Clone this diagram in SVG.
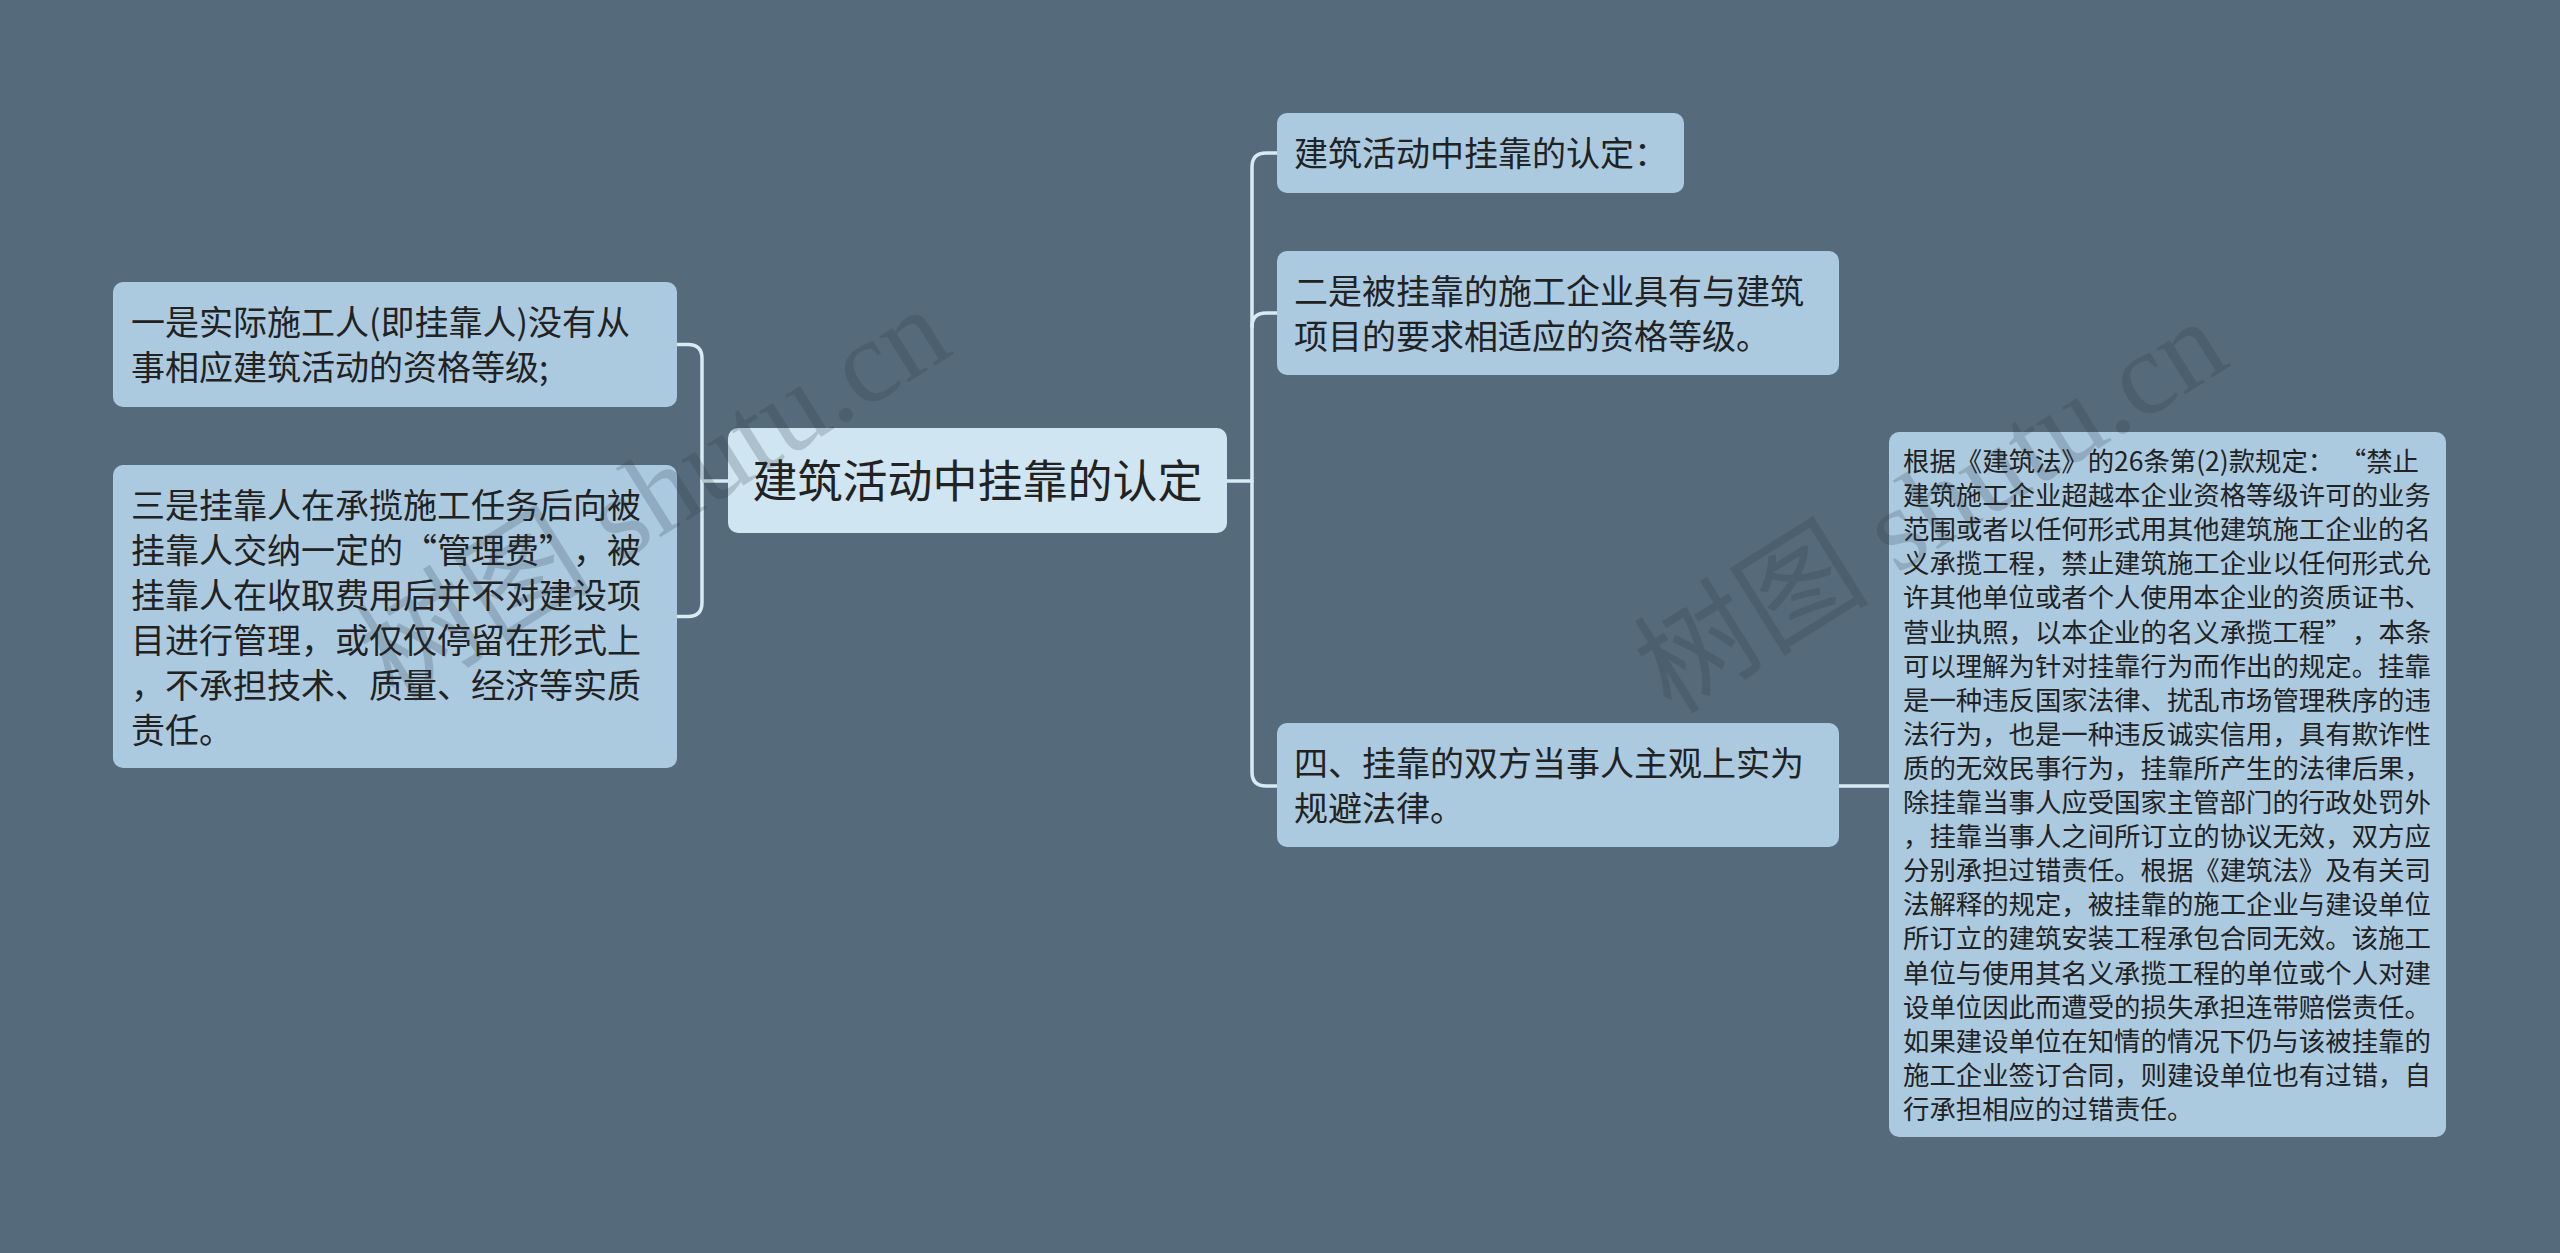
<svg xmlns="http://www.w3.org/2000/svg" width="2560" height="1253" viewBox="0 0 2560 1253">
<style>
.bg{fill:#556a7a}
.node rect{fill:#abcae0}
#center rect{fill:#cfe5f1}
.t{font-family:"Noto Sans CJK SC","Noto Sans",sans-serif;fill:#222}
.t34{font-size:34px}
.t45{font-size:45px}
.t26{font-size:26.4px}
.conn path{fill:none;stroke:#d6ebf4;stroke-width:3.5;stroke-linecap:round}
.wm{font-family:"Liberation Serif","Noto Sans CJK SC",serif;font-size:118px;fill:#2a3640;opacity:0.2}
</style>
<rect class="bg" x="0" y="0" width="2560" height="1253"/>
<g id="connectors" class="conn">
<path d="M677,344.5 H688 Q702,344.5 702,358.5 V602.5 Q702,616.5 688,616.5 H677"/>
<path d="M702,481 H728"/>
<path d="M1227,481 H1252"/>
<path d="M1277,153 H1266 Q1252,153 1252,167 V772 Q1252,786 1266,786 H1277"/>
<path d="M1252,327 Q1252,313 1266,313 H1277"/>
<path d="M1839,786 H1889"/>
</g>
<g id="center" class="node">
<rect x="728" y="428" width="499" height="105" rx="10"/>
<text class="t t45" x="977.5" y="498" text-anchor="middle">建筑活动中挂靠的认定</text>
</g>
<g id="left1" class="node">
<rect x="113" y="282" width="564" height="125" rx="10"/>
<text class="t t34" x="131" y="335">一是实际施工人(即挂靠人)没有从</text>
<text class="t t34" x="131" y="380">事相应建筑活动的资格等级;</text>
</g>
<g id="left2" class="node">
<rect x="113" y="465" width="564" height="303" rx="10"/>
<text class="t t34" x="131" y="518">三是挂靠人在承揽施工任务后向被</text>
<text class="t t34" x="131" y="563">挂靠人交纳一定的</text>
<text class="t t34" x="437" y="563" text-anchor="end">“</text>
<text class="t t34" x="437" y="563">管理费”</text>
<text class="t t34" x="573" y="563">，被</text>
<text class="t t34" x="131" y="608">挂靠人在收取费用后并不对建设项</text>
<text class="t t34" x="131" y="653">目进行管理，或仅仅停留在形式上</text>
<text class="t t34" x="131" y="698">，不承担技术、质量、经济等实质</text>
<text class="t t34" x="131" y="743">责任。</text>
</g>
<g id="right1" class="node">
<rect x="1277" y="113" width="407" height="80" rx="10"/>
<text class="t t34" x="1294" y="166">建筑活动中挂靠的认定：</text>
</g>
<g id="right2" class="node">
<rect x="1277" y="251" width="562" height="124" rx="10"/>
<text class="t t34" x="1294" y="304">二是被挂靠的施工企业具有与建筑</text>
<text class="t t34" x="1294" y="349">项目的要求相适应的资格等级。</text>
</g>
<g id="right4" class="node">
<rect x="1277" y="723" width="562" height="124" rx="10"/>
<text class="t t34" x="1294" y="776">四、挂靠的双方当事人主观上实为</text>
<text class="t t34" x="1294" y="821">规避法律。</text>
</g>
<g id="detail" class="node">
<rect x="1889" y="432" width="557" height="705" rx="10"/>
<text class="t t26" x="1903" y="471">根据《建筑法》的26条第(2)款规定：</text>
<text class="t t26" x="2419" y="471" text-anchor="end">“禁止</text>
<text class="t t26" x="1903" y="505.1">建筑施工企业超越本企业资格等级许可的业务</text>
<text class="t t26" x="1903" y="539.2">范围或者以任何形式用其他建筑施工企业的名</text>
<text class="t t26" x="1903" y="573.3">义承揽工程，禁止建筑施工企业以任何形式允</text>
<text class="t t26" x="1903" y="607.4">许其他单位或者个人使用本企业的资质证书、</text>
<text class="t t26" x="1903" y="641.5">营业执照，以本企业的名义承揽工程”</text>
<text class="t t26" x="2352" y="641.5">，本条</text>
<text class="t t26" x="1903" y="675.6">可以理解为针对挂靠行为而作出的规定。挂靠</text>
<text class="t t26" x="1903" y="709.7">是一种违反国家法律、扰乱市场管理秩序的违</text>
<text class="t t26" x="1903" y="743.8">法行为，也是一种违反诚实信用，具有欺诈性</text>
<text class="t t26" x="1903" y="777.9">质的无效民事行为，挂靠所产生的法律后果，</text>
<text class="t t26" x="1903" y="812">除挂靠当事人应受国家主管部门的行政处罚外</text>
<text class="t t26" x="1903" y="846.1">，挂靠当事人之间所订立的协议无效，双方应</text>
<text class="t t26" x="1903" y="880.2">分别承担过错责任。根据《建筑法》及有关司</text>
<text class="t t26" x="1903" y="914.3">法解释的规定，被挂靠的施工企业与建设单位</text>
<text class="t t26" x="1903" y="948.4">所订立的建筑安装工程承包合同无效。该施工</text>
<text class="t t26" x="1903" y="982.5">单位与使用其名义承揽工程的单位或个人对建</text>
<text class="t t26" x="1903" y="1016.6">设单位因此而遭受的损失承担连带赔偿责任。</text>
<text class="t t26" x="1903" y="1050.7">如果建设单位在知情的情况下仍与该被挂靠的</text>
<text class="t t26" x="1903" y="1084.8">施工企业签订合同，则建设单位也有过错，自</text>
<text class="t t26" x="1903" y="1118.9">行承担相应的过错责任。</text>
</g>
<g id="watermarks">
<text class="wm" transform="translate(675,528) rotate(-32)" text-anchor="middle">树图 shutu.cn</text>
<text class="wm" transform="translate(1952,540) rotate(-32)" text-anchor="middle">树图 shutu.cn</text>
</g>
</svg>
